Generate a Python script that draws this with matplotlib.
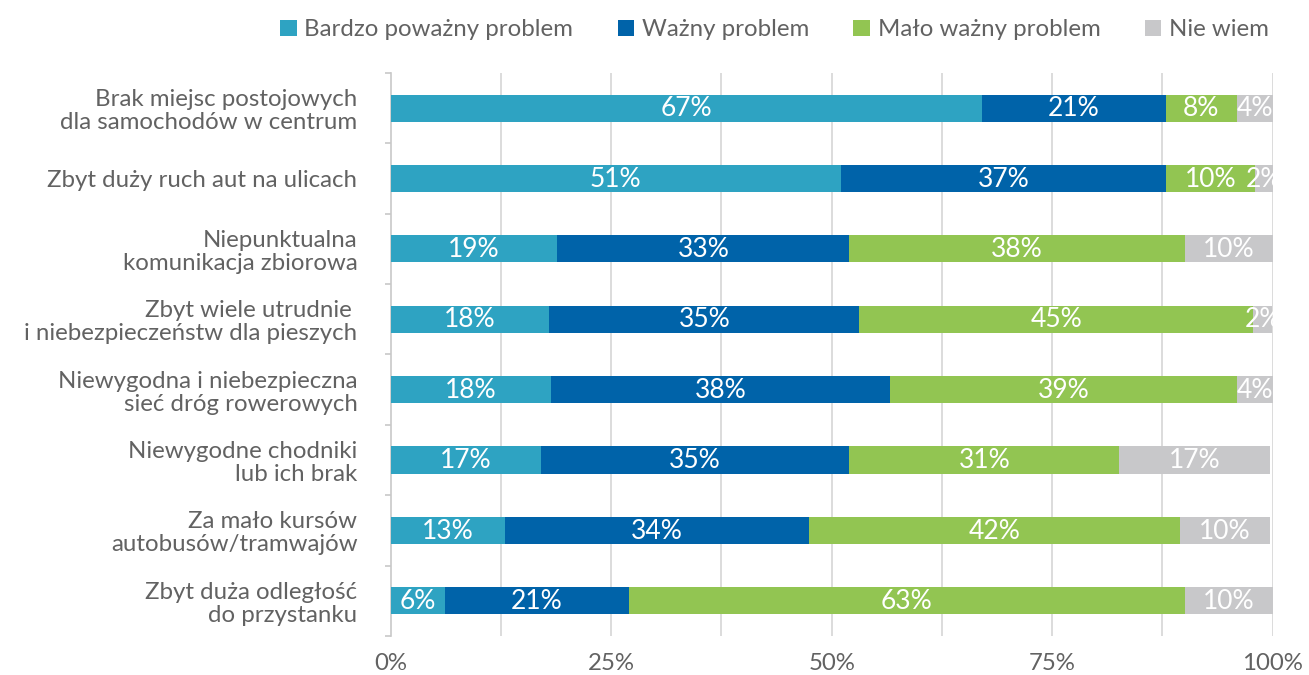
import matplotlib
matplotlib.use("Agg")
import matplotlib.pyplot as plt
from matplotlib.patches import Patch
import numpy as np

plt.rcParams['font.family'] = ['Lato', 'DejaVu Sans']

categories = [
    "Brak miejsc postojowych\ndla samochodów w centrum",
    "Zbyt duży ruch aut na ulicach",
    "Niepunktualna\nkomunikacja zbiorowa",
    "Zbyt wiele utrudnie \ni niebezpieczeństw dla pieszych",
    "Niewygodna i niebezpieczna\nsieć dróg rowerowych",
    "Niewygodne chodniki\nlub ich brak",
    "Za mało kursów\nautobusów/tramwajów",
    "Zbyt duża odległość\ndo przystanku",
]
series_names = ["Bardzo poważny problem", "Ważny problem", "Mało ważny problem", "Nie wiem"]
bardzo = [67.0, 51.0, 18.9, 18.0, 18.2, 17.0, 13.0, 6.1]
wazny = [20.9, 36.9, 33.1, 35.1, 38.4, 35.0, 34.4, 20.9]
malo = [8.0, 10.1, 38.0, 44.7, 39.3, 30.6, 42.1, 63.0]
nie_wiem = [4.1, 2.0, 10.0, 2.1, 4.1, 17.1, 10.2, 10.0]
labels = [
    ["67%", "51%", "19%", "18%", "18%", "17%", "13%", "6%"],
    ["21%", "37%", "33%", "35%", "38%", "35%", "34%", "21%"],
    ["8%", "10%", "38%", "45%", "39%", "31%", "42%", "63%"],
    ["4%", "2%", "10%", "2%", "4%", "17%", "10%", "10%"],
]
x_ticks = [0, 25, 50, 75, 100]
x_ticklabels = ["0%", "25%", "50%", "75%", "100%"]

colors = ["#2EA3C2", "#0063A9", "#92C552", "#C8C8CA"]
text_gray = "#626262"

fig = plt.figure(figsize=(13.09, 6.75), dpi=100)
ax = fig.add_axes([0.2985, 0.0578, 0.6738, 0.8341])

n = len(categories)
y = np.arange(n)
data = [bardzo, wazny, malo, nie_wiem]
left = np.zeros(n)
for i, vals in enumerate(data):
    vals = np.array(vals)
    ax.barh(y, vals, left=left, height=0.385, color=colors[i], zorder=3)
    for j in range(n):
        ax.text(left[j] + vals[j] / 2, y[j] + 0.01, labels[i][j], ha='center', va='center',
                color='white', fontsize=19, zorder=4, clip_on=True)
    left = left + vals

ax.set_xlim(0, 100)
ax.set_ylim(n - 0.5, -0.5)

# grid lines at 12.5% steps
for gx in np.arange(12.5, 100.01, 12.5):
    ax.axvline(gx, color="#D6D6D6", lw=1.2, zorder=1)

ax.set_xticks(x_ticks)
ax.set_xticklabels(x_ticklabels)
ax.set_yticks(y)
ax.set_yticklabels(categories, linespacing=1.12)
ax.set_yticks(np.arange(-0.5, n, 1), minor=True)
ax.tick_params(axis='y', which='major', length=0, pad=24, labelsize=17.3, labelcolor=text_gray)
ax.tick_params(axis='y', which='minor', length=4.5, color="#C8C8C8", width=1.2)
ax.tick_params(axis='x', which='both', length=0, pad=12, labelsize=17.3, labelcolor=text_gray)

for s in ['top', 'right', 'bottom']:
    ax.spines[s].set_visible(False)
ax.spines['left'].set_color("#C8C8C8")
ax.spines['left'].set_linewidth(1.2)

handles = [Patch(facecolor=c, edgecolor='none') for c in colors]
leg = fig.legend(handles, series_names, loc='upper right', bbox_to_anchor=(0.9765, 0.9855),
                 ncol=4, frameon=False, fontsize=17.3, handlelength=0.67, handleheight=0.67,
                 handletextpad=0.33, columnspacing=1.85, borderaxespad=0.0)
for t in leg.get_texts():
    t.set_color(text_gray)

fig.savefig("out.png", dpi=100, facecolor='white')
